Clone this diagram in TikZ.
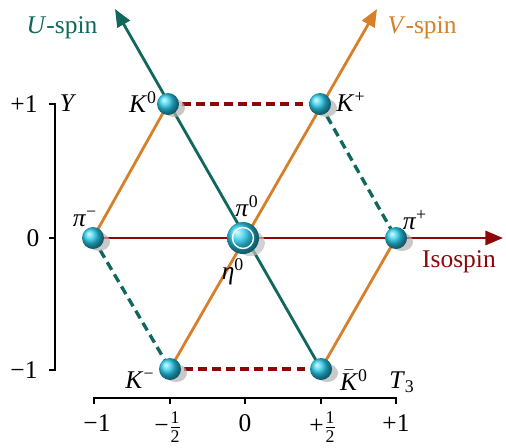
\documentclass[tikz,border=0pt]{standalone}
\usepackage{amsmath}
\usepackage{fontspec}
\setmainfont{Liberation Serif}
\usetikzlibrary{arrows.meta,calc}
\definecolor{uteal}{RGB}{16,104,92}
\definecolor{vorange}{RGB}{214,128,42}
\definecolor{idred}{RGB}{140,8,8}
\definecolor{ballc}{RGB}{40,205,238}
\newcommand{\msup}[1]{\textsuperscript{#1}}
\newcommand{\hlf}{$\frac{\text{1}}{\text{2}}$}
\begin{document}
\begin{tikzpicture}[x=0.02cm,y=-0.02cm,
  font=\fontsize{14.5}{17}\selectfont,
  lbl/.style={inner sep=1pt},
  ulink/.style={uteal,line width=1.6pt},
  vlink/.style={vorange,line width=1.6pt},
  ilink/.style={idred,line width=1.6pt},
  dsh/.style={line width=1.9pt,dash pattern=on 5pt off 3pt},
  axis/.style={black,line width=1.1pt},
]
\useasboundingbox (0,0) rectangle (506,447);
% particle positions
\coordinate (K0) at (168,104);
\coordinate (Kp) at (320,104);
\coordinate (pim) at (93,238);
\coordinate (c) at (243,238);
\coordinate (pip) at (396,238);
\coordinate (Km) at (170,369);
\coordinate (Kb) at (321,369);
\coordinate (Utip) at (115,9);
\coordinate (Vtip) at (377,9);
\coordinate (Itip) at (503,238);
% axes
\coordinate (ya) at (55,104);
\coordinate (yb) at (55,370);
\draw[axis] (49,104) -- (ya) -- (yb) -- (49,370);
\draw[axis] (49,238) -- (55,238);
\draw[axis] (94,404) -- (94,398) -- (396,398) -- (396,404);
\foreach \x in {170,245,321} \draw[axis] (\x,398) -- (\x,404);
\node[lbl] (yp1) at (24,104) {+1};
\node[lbl] (y0) at (33,238) {0};
\node[lbl] (ym1) at (24,370) {−1};
\node[lbl] (ylab) at (68,103) {\textit{Y}};
\node[lbl] (t1) at (97,423) {−1};
\node[lbl] (t2) at (168,427) {−\hlf};
\node[lbl] (t3) at (245,423) {0};
\node[lbl] (t4) at (323,427) {+\hlf};
\node[lbl] (t5) at (396,423) {+1};
\node[lbl] (t3lab) at (402,382) {\textit{T}\textsubscript{3}};
% hexagon edges
\draw[ilink,dsh] (K0) -- (Kp);
\draw[ilink,dsh] (Km) -- (Kb);
\draw[ulink,dsh] (Kp) -- (pip);
\draw[ulink,dsh] (pim) -- (Km);
\draw[vlink] (pim) -- (K0);
\draw[vlink] (Kb) -- (pip);
% spin arrows
\draw[ilink,-{Triangle[length=10pt,width=8pt]}] (pim) -- (Itip);
\draw[vlink,-{Triangle[length=10pt,width=8pt]}] (Km) -- (Vtip);
\draw[ulink,-{Triangle[length=10pt,width=8pt]}] (Kb) -- (Utip);
\node[lbl,text=uteal] (ulab) at (62,28) {\textit{U}-spin};
\node[lbl,text=vorange] (vlab) at (422,28) {\textit{V}-spin};
\node[lbl,text=idred] (ilab) at (459,262) {Isospin};
% balls
\foreach \p in {K0,Kp,pim,pip,Km,Kb}{
  \fill[black!30,opacity=0.7] ($(\p)+(6,4)$) ellipse [x radius=11, y radius=9];
}
\foreach \p in {K0,Kp,pim,pip,Km,Kb}{
  \shade[ball color=ballc] (\p) circle [radius=11];
}
\fill[black!25,opacity=0.7] ($(c)+(7,5)$) ellipse [x radius=15, y radius=13];
\shade[ball color=ballc] (c) circle [radius=16];
\draw[white,line width=0.8pt] (c) circle [radius=10.5];
% labels
\node[lbl] (lK0) at (143,102) {\textit{K}\msup{0}};
\node[lbl] (lKp) at (351,102) {\textit{K}\msup{+}};
\node[lbl] (lpim) at (85,219) {\textit{π}\msup{−}};
\node[lbl] (lpi0) at (247,206) {\textit{π}\msup{0}};
\node[lbl] (leta) at (233,272) {\textit{η}\msup{0}};
\node[lbl] (lpip) at (415,220) {\textit{π}\msup{+}};
\node[lbl] (lKm) at (140,380) {\textit{K}\msup{−}};
\node[lbl] (lKb) at (354,380) {$\bar{\text{\textit{K}}}$\msup{0}};
\end{tikzpicture}
\end{document}
